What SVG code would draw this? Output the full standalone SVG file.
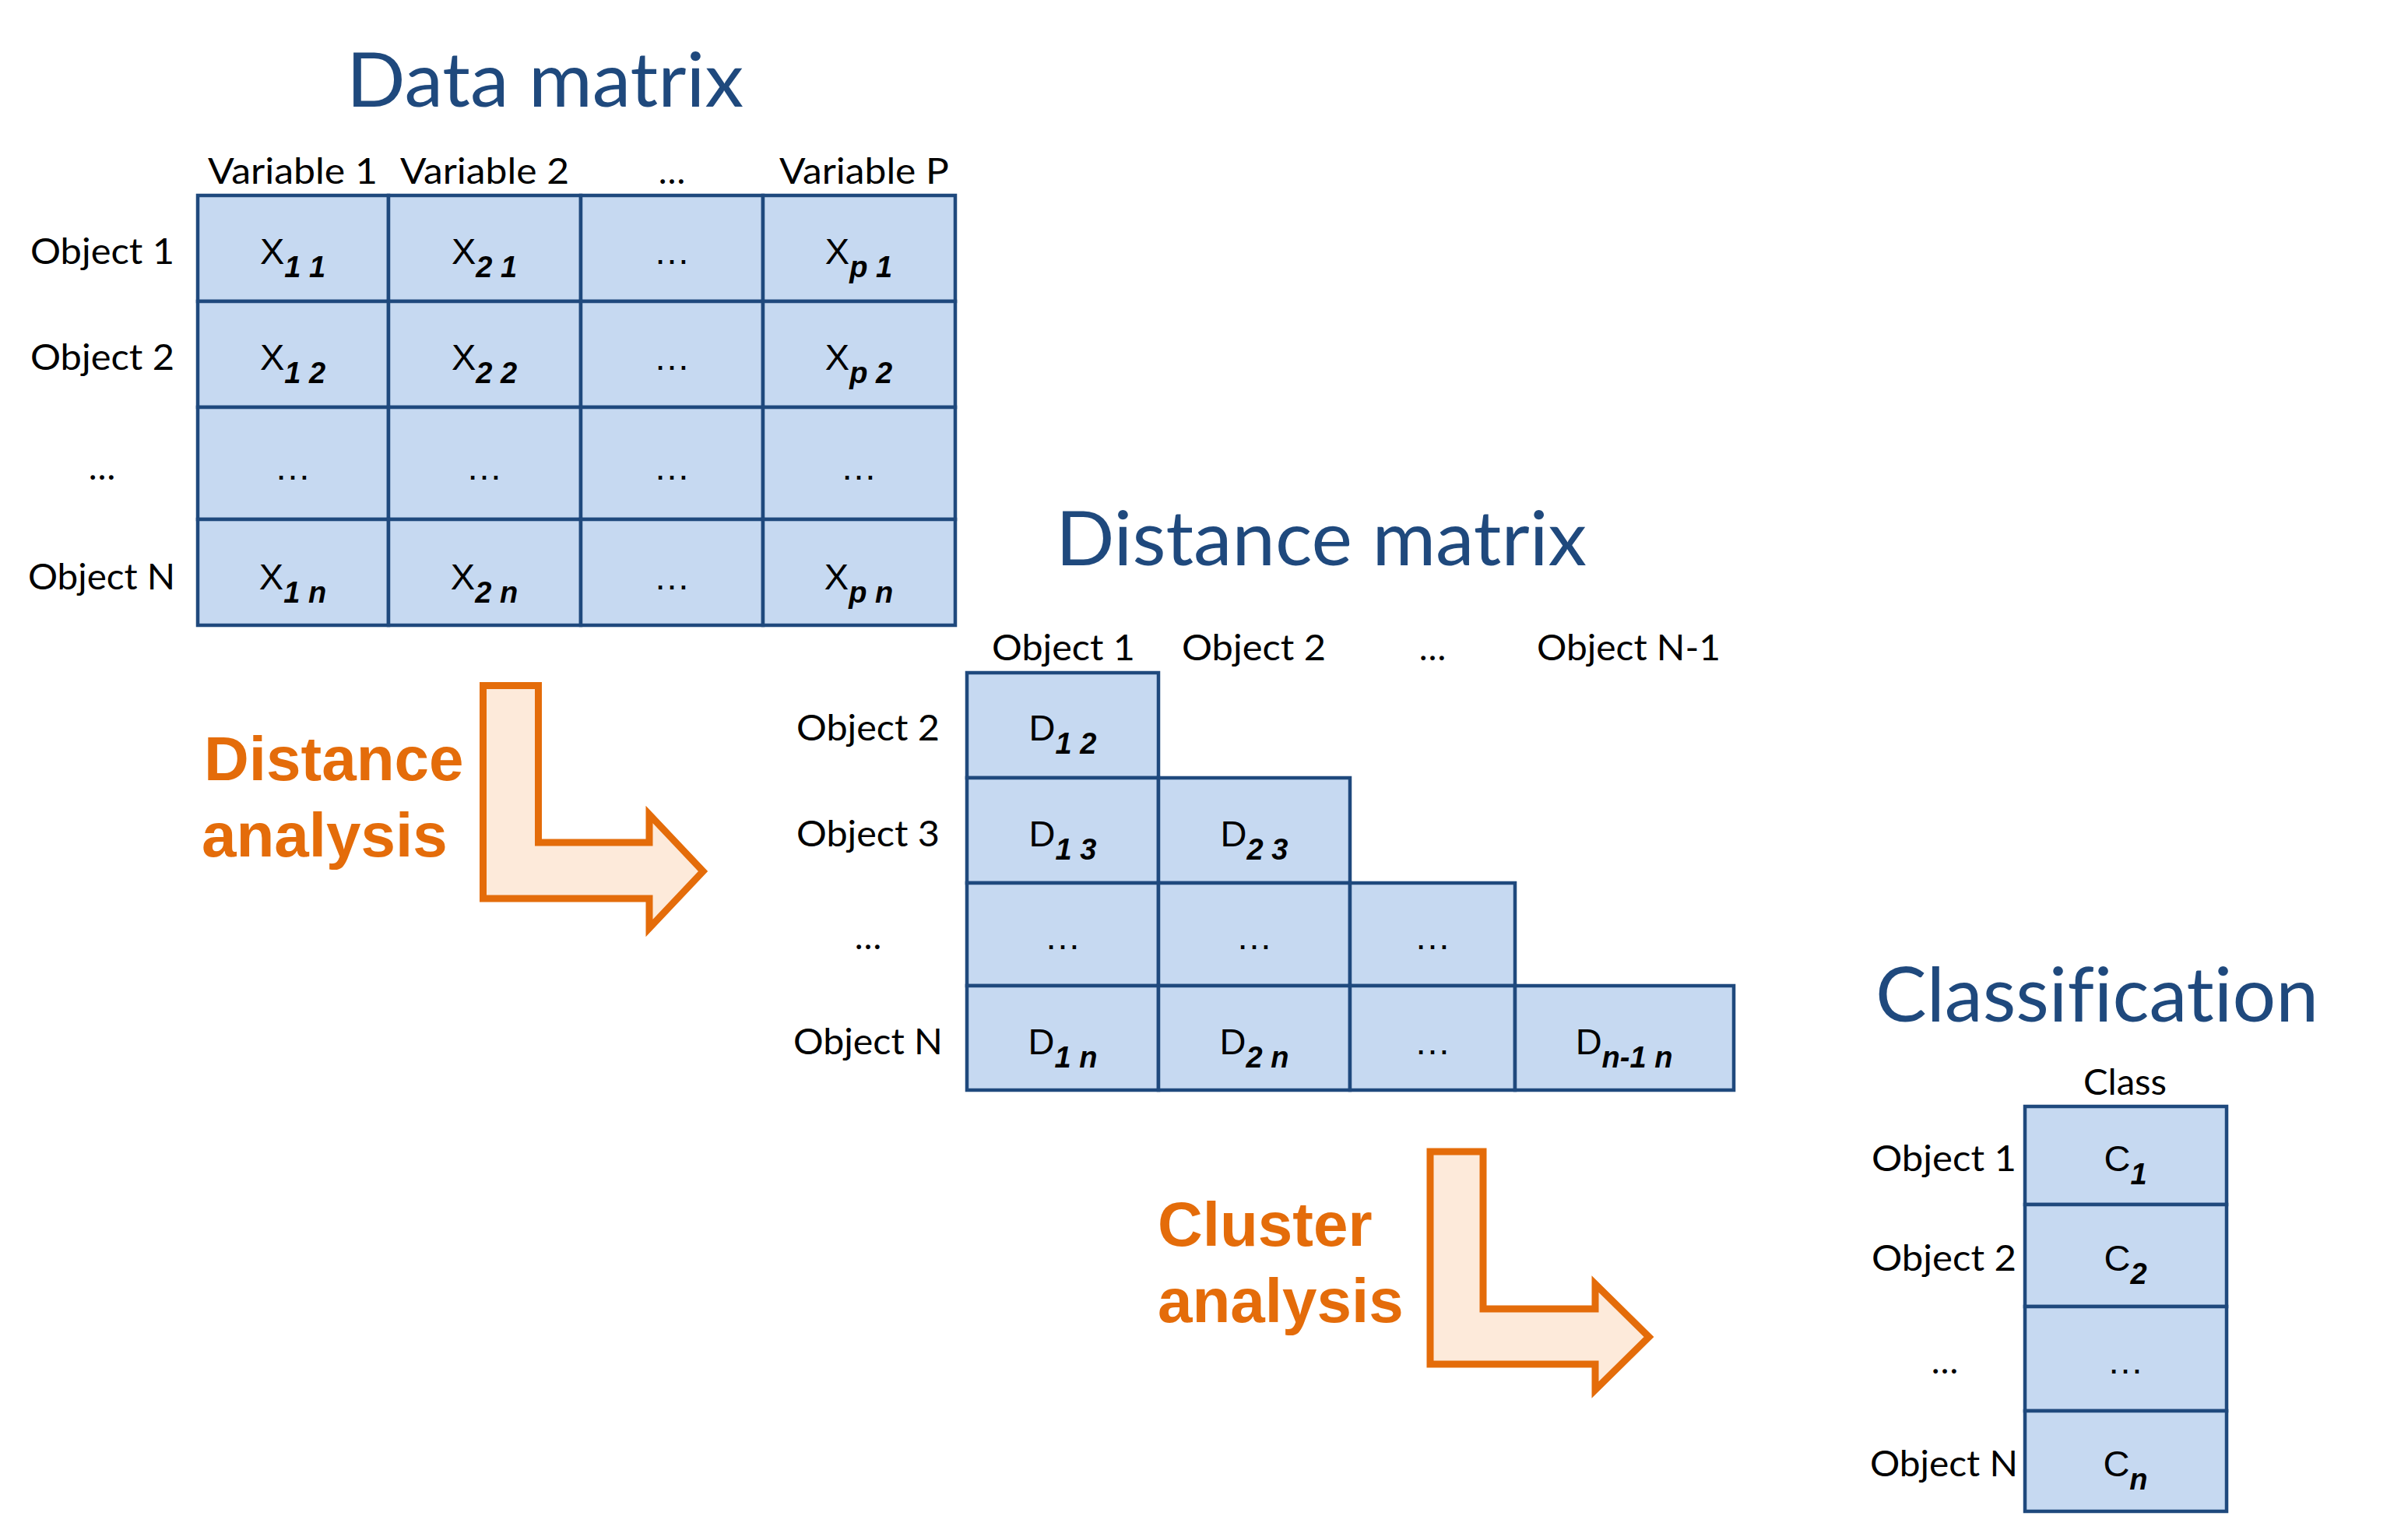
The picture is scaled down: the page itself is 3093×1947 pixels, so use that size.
<svg xmlns="http://www.w3.org/2000/svg" width="3093" height="1947" viewBox="0 0 3093 1947">
<style>
.title{font-family:Lato,"Open Sans",sans-serif;font-size:97px;fill:#1F497D;font-variant-ligatures:none}
.lbl{font-family:Lato,"Open Sans",sans-serif;font-size:46px;fill:#000;font-variant-ligatures:none}
.mid{text-anchor:middle}
.cell{fill:#C6D9F1;stroke:#1F497D;stroke-width:4.5}
.val{font-family:"Liberation Sans",Arial,sans-serif;font-size:47px;text-anchor:middle;fill:#000}
.sub{font-weight:bold;font-style:italic;font-size:38px}
.orange{font-family:"Liberation Sans",Arial,sans-serif;font-weight:bold;font-size:80px;fill:#E46C0A}
.arrow{fill:#FDEADA;stroke:#E46C0A;stroke-width:9;stroke-linejoin:miter}
</style>
<rect width="3093" height="1947" fill="#fff"/>

<g id="data-matrix">
<text class="title" x="445" y="137" textLength="510" lengthAdjust="spacingAndGlyphs">Data matrix</text>
<text class="lbl" x="267" y="236" textLength="218" lengthAdjust="spacingAndGlyphs">Variable 1</text>
<text class="lbl" x="514" y="236" textLength="217" lengthAdjust="spacingAndGlyphs">Variable 2</text>
<text class="lbl mid" x="863" y="236">…</text>
<text class="lbl" x="1001" y="236" textLength="218" lengthAdjust="spacingAndGlyphs">Variable P</text>
<text class="lbl" x="39" y="339" textLength="185" lengthAdjust="spacingAndGlyphs">Object 1</text>
<text class="lbl" x="39" y="475" textLength="185" lengthAdjust="spacingAndGlyphs">Object 2</text>
<text class="lbl mid" x="131" y="616">…</text>
<text class="lbl" x="36" y="757" textLength="189" lengthAdjust="spacingAndGlyphs">Object N</text>
<g>
<rect class="cell" x="254" y="251" width="245" height="136"/>
<rect class="cell" x="499" y="251" width="247" height="136"/>
<rect class="cell" x="746" y="251" width="234" height="136"/>
<rect class="cell" x="980" y="251" width="247" height="136"/>
<rect class="cell" x="254" y="387" width="245" height="136"/>
<rect class="cell" x="499" y="387" width="247" height="136"/>
<rect class="cell" x="746" y="387" width="234" height="136"/>
<rect class="cell" x="980" y="387" width="247" height="136"/>
<rect class="cell" x="254" y="523" width="245" height="144"/>
<rect class="cell" x="499" y="523" width="247" height="144"/>
<rect class="cell" x="746" y="523" width="234" height="144"/>
<rect class="cell" x="980" y="523" width="247" height="144"/>
<rect class="cell" x="254" y="667" width="245" height="136"/>
<rect class="cell" x="499" y="667" width="247" height="136"/>
<rect class="cell" x="746" y="667" width="234" height="136"/>
<rect class="cell" x="980" y="667" width="247" height="136"/>
</g>
<text class="val" x="376" y="339">X<tspan class="sub" dy="17">1 1</tspan></text>
<text class="val" x="622" y="339">X<tspan class="sub" dy="17">2 1</tspan></text>
<text class="val" x="863" y="339">…</text>
<text class="val" x="1103" y="339">X<tspan class="sub" dy="17">p 1</tspan></text>
<text class="val" x="376" y="475">X<tspan class="sub" dy="17">1 2</tspan></text>
<text class="val" x="622" y="475">X<tspan class="sub" dy="17">2 2</tspan></text>
<text class="val" x="863" y="475">…</text>
<text class="val" x="1103" y="475">X<tspan class="sub" dy="17">p 2</tspan></text>
<text class="val" x="376" y="616">…</text>
<text class="val" x="622" y="616">…</text>
<text class="val" x="863" y="616">…</text>
<text class="val" x="1103" y="616">…</text>
<text class="val" x="376" y="757">X<tspan class="sub" dy="17">1 n</tspan></text>
<text class="val" x="622" y="757">X<tspan class="sub" dy="17">2 n</tspan></text>
<text class="val" x="863" y="757">…</text>
<text class="val" x="1103" y="757">X<tspan class="sub" dy="17">p n</tspan></text>
</g>

<g id="distance-matrix">
<text class="title" x="1356" y="726" textLength="682" lengthAdjust="spacingAndGlyphs">Distance matrix</text>
<text class="lbl" x="1274" y="848" textLength="184" lengthAdjust="spacingAndGlyphs">Object 1</text>
<text class="lbl" x="1518" y="848" textLength="185" lengthAdjust="spacingAndGlyphs">Object 2</text>
<text class="lbl mid" x="1840" y="848">…</text>
<text class="lbl" x="1974" y="848" textLength="236" lengthAdjust="spacingAndGlyphs">Object N-1</text>
<text class="lbl" x="1023" y="951" textLength="184" lengthAdjust="spacingAndGlyphs">Object 2</text>
<text class="lbl" x="1023" y="1087" textLength="184" lengthAdjust="spacingAndGlyphs">Object 3</text>
<text class="lbl mid" x="1115" y="1219">…</text>
<text class="lbl" x="1019" y="1354" textLength="192" lengthAdjust="spacingAndGlyphs">Object N</text>
<g>
<rect class="cell" x="1242" y="864" width="246" height="135"/>
<rect class="cell" x="1242" y="999" width="246" height="135"/>
<rect class="cell" x="1488" y="999" width="246" height="135"/>
<rect class="cell" x="1242" y="1134" width="246" height="132"/>
<rect class="cell" x="1488" y="1134" width="246" height="132"/>
<rect class="cell" x="1734" y="1134" width="212" height="132"/>
<rect class="cell" x="1242" y="1266" width="246" height="134"/>
<rect class="cell" x="1488" y="1266" width="246" height="134"/>
<rect class="cell" x="1734" y="1266" width="212" height="134"/>
<rect class="cell" x="1946" y="1266" width="281" height="134"/>
</g>
<text class="val" x="1365" y="951">D<tspan class="sub" dy="17">1 2</tspan></text>
<text class="val" x="1365" y="1087">D<tspan class="sub" dy="17">1 3</tspan></text>
<text class="val" x="1611" y="1087">D<tspan class="sub" dy="17">2 3</tspan></text>
<text class="val" x="1365" y="1219">…</text>
<text class="val" x="1611" y="1219">…</text>
<text class="val" x="1840" y="1219">…</text>
<text class="val" x="1365" y="1354">D<tspan class="sub" dy="17">1 n</tspan></text>
<text class="val" x="1611" y="1354">D<tspan class="sub" dy="17">2 n</tspan></text>
<text class="val" x="1840" y="1354">…</text>
<text class="val" x="2086" y="1354">D<tspan class="sub" dy="17">n-1 n</tspan></text>
</g>

<g id="classification">
<text class="title" x="2409" y="1312" textLength="569" lengthAdjust="spacingAndGlyphs">Classification</text>
<text class="lbl" x="2676" y="1406" textLength="107" lengthAdjust="spacingAndGlyphs">Class</text>
<text class="lbl" x="2404" y="1504" textLength="186" lengthAdjust="spacingAndGlyphs">Object 1</text>
<text class="lbl" x="2404" y="1632" textLength="186" lengthAdjust="spacingAndGlyphs">Object 2</text>
<text class="lbl mid" x="2498" y="1764">…</text>
<text class="lbl" x="2402" y="1896" textLength="190" lengthAdjust="spacingAndGlyphs">Object N</text>
<g>
<rect class="cell" x="2601" y="1421" width="259" height="126"/>
<rect class="cell" x="2601" y="1547" width="259" height="131"/>
<rect class="cell" x="2601" y="1678" width="259" height="134"/>
<rect class="cell" x="2601" y="1812" width="259" height="129"/>
</g>
<text class="val" x="2730" y="1504">C<tspan class="sub" dy="17">1</tspan></text>
<text class="val" x="2730" y="1632">C<tspan class="sub" dy="17">2</tspan></text>
<text class="val" x="2730" y="1764">…</text>
<text class="val" x="2730" y="1896">C<tspan class="sub" dy="17">n</tspan></text>
</g>

<g id="connectors">
<g id="distance-analysis">
<path class="arrow" d="M620.5,880.5 H691.5 V1082 H834 V1046 L903,1119 L834,1192 V1154 H620.5 Z"/>
<text class="orange" x="262" y="1002">Distance</text>
<text class="orange" x="259" y="1100">analysis</text>
</g>
<g id="cluster-analysis">
<path class="arrow" d="M1837,1479 H1905 V1681 H2049 V1649 L2118,1717 L2049,1785 V1752 H1837 Z"/>
<text class="orange" x="1487" y="1600">Cluster</text>
<text class="orange" x="1487" y="1698">analysis</text>
</g>
</g>
</svg>
